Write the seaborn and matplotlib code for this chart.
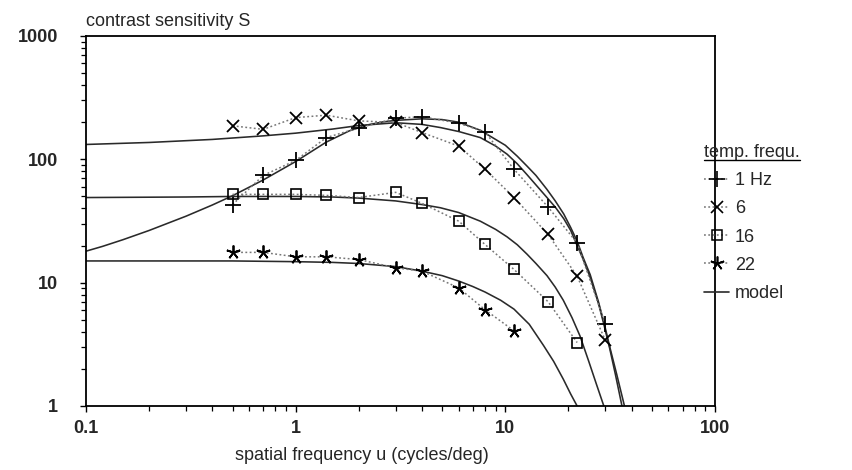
import matplotlib
matplotlib.use("Agg")
import matplotlib.pyplot as plt
import seaborn as sns
from matplotlib.lines import Line2D

# measured contrast sensitivity at each temporal frequency
u_meas = [0.5, 0.7, 1, 1.4, 2, 3, 4, 6, 8, 11, 16, 22, 30]
s_1hz = [43, 74, 98, 150, 180, 215, 222, 196, 167, 83, 41, 21, 4.6]
s_6hz = [187, 175, 218, 228, 205, 199, 165, 128, 83, 49, 24.6, 11.3, 3.4]
u_16 = [0.5, 0.7, 1, 1.4, 2, 3, 4, 6, 8, 11, 16, 22]
s_16hz = [52, 52, 52, 51, 49, 54, 44, 31.5, 20.4, 12.8, 7.0, 3.27]
u_22 = [0.5, 0.7, 1, 1.4, 2, 3, 4, 6, 8, 11]
s_22hz = [17.6, 17.6, 16.2, 16.2, 15.4, 13.2, 12.4, 9.06, 6.03, 4.07]

# model curves
um_1 = [0.1, 0.12, 0.15, 0.2, 0.3, 0.4, 0.5, 0.7, 1, 1.4, 1.8, 2.2, 2.6, 3,
        4, 5, 6, 7.6, 10, 11.4, 12.7, 14, 15.8, 17.3, 19, 20.5, 22, 23.5,
        25.4, 27.8, 29.5, 31.5, 34, 37]
sm_1 = [18, 19.7, 22.3, 26.5, 34.6, 42.6, 50.7, 68, 96, 138, 170, 190, 201,
        207, 213, 210, 200, 172, 130, 106, 88, 74, 57, 46, 36, 28, 21.7, 16,
        11.6, 7.0, 4.8, 3.0, 1.8, 1.0]
um_6 = [0.1, 0.2, 0.4, 0.7, 1, 1.5, 2, 3, 4, 4.9, 6, 7.6, 9, 10.2, 11.4,
        12.7, 14, 15.8, 17.3, 19, 20.5, 22, 23.5, 25.4, 27.8, 29.5, 31.5,
        33.5, 36]
sm_6 = [132, 137, 145, 155, 163, 176, 188, 198, 192, 181, 168, 150, 128,
        110, 92, 75, 62, 49, 41, 33, 26.5, 20, 15.5, 11, 6.8, 4.6, 2.9,
        1.8, 1.0]
um_16 = [0.1, 0.3, 0.5, 1, 1.5, 2, 3, 4, 4.9, 6, 7.6, 9, 10.2, 11.4, 12.7,
         14, 15.8, 17.3, 18.9, 20.8, 22.7, 25, 27.2, 29.5]
sm_16 = [49, 49.5, 50, 50, 49.5, 48.5, 46, 43, 40.5, 37, 31.5, 27, 23.5,
         20.3, 17, 14.3, 11.4, 9.2, 7.2, 5.2, 3.7, 2.3, 1.5, 1.0]
um_22 = [0.1, 0.3, 0.5, 1, 1.5, 2, 3, 4, 5, 6, 7, 8, 9.5, 11, 13, 15.2, 17,
         18.9, 20.5, 22]
sm_22 = [15, 15, 15, 14.8, 14.6, 14.3, 13.5, 12.4, 11.4, 10.3, 9.3, 8.4,
         7.2, 6.1, 4.6, 3.1, 2.3, 1.65, 1.25, 1.0]

legend_labels = ["1 Hz", "6", "16", "22", "model"]

sns.set_style("white")
plt.rcParams["font.family"] = ["Liberation Sans", "DejaVu Sans"]

fig = plt.figure(figsize=(8.52, 4.70), dpi=100)
ax = fig.add_axes([86 / 852, 1 - 406 / 470, (715 - 86) / 852, (406 - 36) / 470])
ax.set_xscale("log")
ax.set_yscale("log")

model_kw = dict(color="#2a2a2a", linewidth=1.15, estimator=None, sort=False)
for uu, ss in [(um_1, sm_1), (um_6, sm_6), (um_16, sm_16), (um_22, sm_22)]:
    sns.lineplot(x=uu, y=ss, ax=ax, **model_kw)

dot_style = (0, (1.2, 1.6))
data_kw = dict(color="#777777", linewidth=1.1, linestyle=dot_style,
               estimator=None, sort=False, markeredgecolor="black")
series = [
    (u_meas, s_1hz, dict(marker="+", markersize=11, markeredgewidth=1.3)),
    (u_meas, s_6hz, dict(marker="x", markersize=9, markeredgewidth=1.3)),
    (u_16, s_16hz, dict(marker="s", markersize=7.5, markeredgewidth=1.2,
                        markerfacecolor="none")),
    (u_22, s_22hz, dict(marker=(5, 2, 0), markersize=10, markeredgewidth=1.3)),
]
for uu, ss, mk in series:
    sns.lineplot(x=uu, y=ss, ax=ax, **data_kw, **mk)

ax.set_xlim(0.1, 100)
ax.set_ylim(1, 1000)
for sp in ax.spines.values():
    sp.set_color("black")
    sp.set_linewidth(1.3)
ax.set_xticks([0.1, 1, 10, 100])
ax.set_xticklabels(["0.1", "1", "10", "100"])
ax.set_yticks([1, 10, 100, 1000])
ax.set_yticklabels(["1", "10", "100", "1000"])
ax.tick_params(axis="both", which="both", direction="out", color="black",
               bottom=True, left=True, top=False, right=False)
ax.tick_params(axis="both", which="major", length=4, width=1.0,
               labelsize=13)
ax.tick_params(axis="both", which="minor", length=3.5, width=0.9)
ax.tick_params(axis="y", which="major", pad=16)
ax.tick_params(axis="x", which="major", pad=6)
for lab in ax.get_xticklabels() + ax.get_yticklabels():
    lab.set_fontweight("bold")
ax.set_xlabel("")
ax.set_ylabel("")
ax.grid(False)

fig.text(86 / 852, 1 - 22 / 470, "contrast sensitivity S", fontsize=13,
         ha="left", va="center")
fig.text(362 / 852, 1 - 455 / 470, "spatial frequency u (cycles/deg)",
         fontsize=13, ha="center", va="center")

handles = [
    Line2D([], [], color="#777777", linestyle=dot_style, linewidth=1.1,
           marker="+", markersize=11, markeredgewidth=1.2, markeredgecolor="black"),
    Line2D([], [], color="#777777", linestyle=dot_style, linewidth=1.1,
           marker="x", markersize=8, markeredgewidth=1.2, markeredgecolor="black"),
    Line2D([], [], color="#777777", linestyle=dot_style, linewidth=1.1,
           marker="s", markersize=7, markeredgewidth=1.1, markeredgecolor="black",
           markerfacecolor="none"),
    Line2D([], [], color="#777777", linestyle=dot_style, linewidth=1.1,
           marker=(5, 2, 0), markersize=10, markeredgewidth=1.2,
           markeredgecolor="black"),
    Line2D([], [], color="#2a2a2a", linewidth=1.2),
]
leg = ax.legend(handles, legend_labels, title="temp. frequ.",
                loc="upper left", bbox_to_anchor=(704 / 852, 1 - 144 / 470),
                bbox_transform=fig.transFigure, frameon=False, fontsize=13,
                title_fontsize=13, handlelength=1.4, handletextpad=0.3,
                labelspacing=0.62, borderpad=0, borderaxespad=0,
                alignment="left", markerfirst=True)

# underline the legend title
fig.canvas.draw()
bb = leg.get_title().get_window_extent()
inv = fig.transFigure.inverted()
(x0, y0), (x1, _) = inv.transform([(bb.x0, bb.y0), (bb.x1, bb.y0)])
fig.add_artist(Line2D([x0, x1], [y0 + 0.002, y0 + 0.002],
                      transform=fig.transFigure, color="black", linewidth=1.0))

fig.savefig("out.png", dpi=100)
